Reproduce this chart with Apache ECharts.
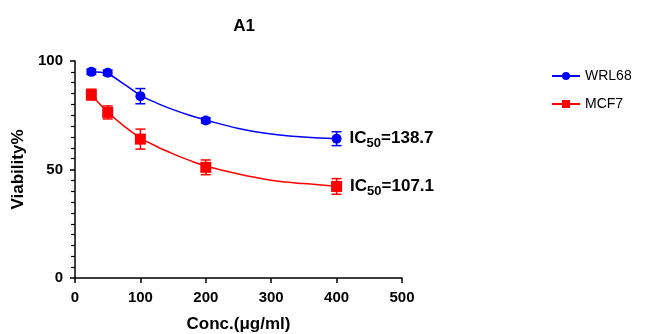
<!DOCTYPE html>
<html>
<head>
<meta charset="utf-8">
<script src="https://cdn.jsdelivr.net/npm/echarts@6/dist/echarts.min.js"></script>
<style>
  html, body { margin: 0; padding: 0; background: #fff; }
  #chart { width: 645px; height: 334px; }
</style>
</head>
<body>
<div id="chart"></div>
<script>
// measured points (conc in µg/ml)
const conc = [25, 50, 100, 200, 400];
const wrlMean = [95, 94.6, 83.8, 72.6, 64.2];
const wrlErr = [1.2, 1.2, 3.5, 1.2, 3.2];
const mcfMean = [84.5, 76.3, 64, 51, 42.2];
const mcfErr = [2.5, 3, 4.6, 3.4, 3.6];

// fitted curves
const curveX = [25, 50, 75, 100, 125, 150, 175, 200, 250, 300, 350, 400];
const wrlCurve = [95, 94, 89.3, 84.2, 80.6, 77.6, 75, 72.8, 68.9, 66.4, 65, 64.2];
const mcfCurve = [84.3, 76.5, 70, 64.6, 60.6, 57.2, 54.2, 51.6, 47.9, 45.1, 43.5, 42.3];

const ic50 = ['138.7', '107.1'];

const pairs = (xs, ys) => xs.map((x, i) => [x, ys[i]]);
const errData = (m, e) => conc.map((x, i) => [x, m[i] - e[i], m[i] + e[i]]);

const errorBars = (color) => (params, api) => {
  const lo = api.coord([api.value(0), api.value(1)]);
  const hi = api.coord([api.value(0), api.value(2)]);
  const w = 5;
  const style = { stroke: color, lineWidth: 1.5 };
  return {
    type: 'group',
    children: [
      { type: 'line', shape: { x1: lo[0], y1: lo[1], x2: hi[0], y2: hi[1] }, style },
      { type: 'line', shape: { x1: lo[0] - w, y1: lo[1], x2: lo[0] + w, y2: lo[1] }, style },
      { type: 'line', shape: { x1: hi[0] - w, y1: hi[1], x2: hi[0] + w, y2: hi[1] }, style }
    ]
  };
};

const icLabel = (val) => ({
  show: true,
  position: 'right',
  distance: 8,
  formatter: (p) => (p.dataIndex === conc.length - 1 ? '{a|IC}{s|50}{a|=' + val + '}' : ''),
  rich: {
    a: { fontFamily: 'Liberation Sans', fontWeight: 'bold', fontSize: 17, color: '#000', lineHeight: 22, verticalAlign: 'middle' },
    s: { fontFamily: 'Liberation Sans', fontWeight: 'bold', fontSize: 13, color: '#000', lineHeight: 22, verticalAlign: 'bottom', padding: [7, 0, 0, 0] }
  }
});

const myChart = echarts.init(document.getElementById('chart'));

const axisText = { fontFamily: 'Liberation Sans', fontWeight: 'bold', fontSize: 15, color: '#000' };
const nameText = { fontFamily: 'Liberation Sans', fontWeight: 'bold', fontSize: 17, color: '#000' };
const axLine = { show: true, lineStyle: { color: '#000', width: 1.5 } };

const option = {
  animation: false,
  title: {
    text: 'A1',
    left: 239,
    textAlign: 'center',
    top: 13,
    textStyle: { fontFamily: 'Liberation Sans', fontWeight: 'bold', fontSize: 17, color: '#000' }
  },
  legend: {
    orient: 'vertical',
    left: 546,
    top: 64,
    itemWidth: 28,
    itemHeight: 10,
    itemGap: 14,
    textStyle: { fontFamily: 'Liberation Sans', fontSize: 14, color: '#000' },
    data: ['WRL68', 'MCF7']
  },
  grid: { left: 75, right: 243, top: 61, bottom: 56, outerBoundsMode: 'none' },
  xAxis: {
    type: 'value',
    min: 0,
    max: 500,
    interval: 100,
    name: 'Conc.(μg/ml)',
    nameLocation: 'middle',
    nameGap: 38,
    nameTextStyle: nameText,
    axisLine: axLine,
    axisTick: { show: true, length: 5, lineStyle: { color: '#000', width: 1.5 } },
    axisLabel: { ...axisText, margin: 12 },
    splitLine: { show: false }
  },
  yAxis: {
    type: 'value',
    min: 0,
    max: 100,
    interval: 50,
    name: 'Viability%',
    nameLocation: 'middle',
    nameGap: 48,
    nameTextStyle: nameText,
    axisLine: axLine,
    axisTick: { show: true, length: 5, lineStyle: { color: '#000', width: 1.5 } },
    minorTick: { show: true, splitNumber: 10, length: 4, lineStyle: { color: '#000', width: 1.2 } },
    axisLabel: { ...axisText, margin: 12 },
    splitLine: { show: false }
  },
  series: [
    {
      name: 'WRL68',
      type: 'line',
      smooth: 0.4,
      symbol: 'circle',
      symbolSize: 10,
      showSymbol: false,
      itemStyle: { color: '#0000ff' },
      lineStyle: { color: '#0000ff', width: 1.5 },
      data: pairs(curveX, wrlCurve),
      z: 2
    },
    {
      name: 'MCF7',
      type: 'line',
      smooth: 0.4,
      symbol: 'rect',
      symbolSize: 11,
      showSymbol: false,
      itemStyle: { color: '#ff0000' },
      lineStyle: { color: '#ff0000', width: 1.5 },
      data: pairs(curveX, mcfCurve),
      z: 2
    },
    {
      type: 'custom',
      renderItem: errorBars('#0000ff'),
      data: errData(wrlMean, wrlErr),
      z: 3
    },
    {
      type: 'custom',
      renderItem: errorBars('#ff0000'),
      data: errData(mcfMean, mcfErr),
      z: 3
    },
    {
      type: 'scatter',
      symbol: 'circle',
      symbolSize: 10,
      itemStyle: { color: '#0000ff', opacity: 1 },
      label: icLabel(ic50[0]),
      data: pairs(conc, wrlMean),
      z: 4
    },
    {
      type: 'scatter',
      symbol: 'rect',
      symbolSize: 11,
      itemStyle: { color: '#ff0000', opacity: 1 },
      label: icLabel(ic50[1]),
      data: pairs(conc, mcfMean),
      z: 4
    }
  ]
};

myChart.setOption(option);
window.addEventListener('resize', () => myChart.resize());
</script>
</body>
</html>
